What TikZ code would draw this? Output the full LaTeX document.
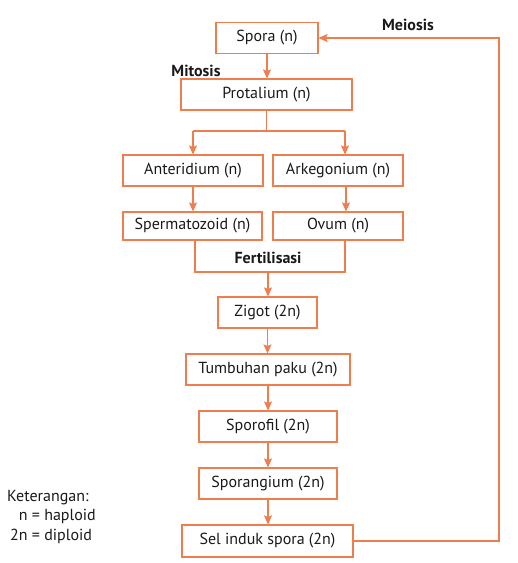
\documentclass[tikz,border=0pt]{standalone}
\usepackage{fontspec}
\setmainfont{PT Sans}
\usetikzlibrary{arrows.meta}
\definecolor{org}{RGB}{240,125,78}
\begin{document}
\begin{tikzpicture}[x=1pt,y=-1pt,
  box/.style={draw=org, line width=1.1pt, minimum height=31pt, inner sep=0pt, font=\fontsize{16}{19}\selectfont, text=black!90},
  ln/.style={draw=org, line width=1.1pt},
  arr/.style={draw=org, line width=1.1pt, -{Stealth[length=9pt,width=8pt,inset=1.5pt]}},
  lab/.style={font=\bfseries\fontsize{16}{19}\selectfont, text=black!90, inner sep=0pt},
  legend/.style={font=\fontsize{16}{19.5}\selectfont, text=black!90, inner sep=0pt}]
\useasboundingbox (0,0) rectangle (518,563);
\node[box, minimum width=102pt] (spora) at (267,38) {Spora (n)};
\node[box, minimum width=171pt] (prot) at (266.5,94.5) {Protalium (n)};
\node[box, minimum width=140pt] (anth) at (193,170.5) {Anteridium (n)};
\node[box, minimum width=130pt] (arke) at (338,170.5) {Arkegonium (n)};
\node[box, minimum width=139pt, minimum height=28pt] (sperm) at (192.5,226) {Spermatozoid (n)};
\node[box, minimum width=130pt, minimum height=28pt] (ovum) at (338,226) {Ovum (n)};
\node[box, minimum width=99pt] (zigot) at (267.5,312.5) {Zigot (2n)};
\node[box, minimum width=164pt] (tumb) at (268,369.5) {Tumbuhan paku (2n)};
\node[box, minimum width=138pt] (spf) at (268,426.5) {Sporofil (2n)};
\node[box, minimum width=138pt] (spg) at (268,483.5) {Sporangium (2n)};
\node[box, minimum width=171pt, minimum height=32pt] (sel) at (267.5,541) {Sel induk spora (2n)};
% labels
\node[lab] (mit) at (196,71) {Mitosis};
\node[lab] (mei) at (408,25) {Meiosis};
\node[lab] (fert) at (268,258) {Fertilisasi};
% connectors
\draw[arr] (spora.south) -- (spora.south |- prot.north);
\coordinate (sl) at (193,131);
\coordinate (sr) at (345,131);
\coordinate (fl) at (195,272);
\coordinate (fr) at (345,272);
\coordinate (fm) at (268,272);
\coordinate (rc) at (499,300);
\draw[ln] (prot.south) -- (prot.south |- sl);
\draw[ln] (sl) -- (sr);
\draw[arr] (sl) -- (sl |- anth.north);
\draw[arr] (sr) -- (sr |- arke.north);
\draw[arr] (anth.south) -- (anth.south |- sperm.north);
\draw[arr] ([xshift=8pt]arke.south) -- ([xshift=8pt]arke.south |- ovum.north);
\draw[ln] (fl |- sperm.south) -- (fl) -- (fr) -- (fr |- ovum.south);
\draw[arr] (fm) -- (fm |- zigot.north);
\draw[arr] (zigot.south) -- (zigot.south |- tumb.north);
\draw[arr] (tumb.south) -- (tumb.south |- spf.north);
\draw[arr] (spf.south) -- (spf.south |- spg.north);
\draw[arr] (spg.south) -- (spg.south |- sel.north);
\draw[arr] (sel.east) -| (rc) |- (spora.east);
% legend
\node[legend, anchor=west] (ket) at (7,498) {Keterangan:};
\node[legend, anchor=north west] (leg) at (10,507) {\begin{tabular}{@{}r@{ = }l@{}}n & haploid\\ 2n & diploid\end{tabular}};
\end{tikzpicture}
\end{document}
